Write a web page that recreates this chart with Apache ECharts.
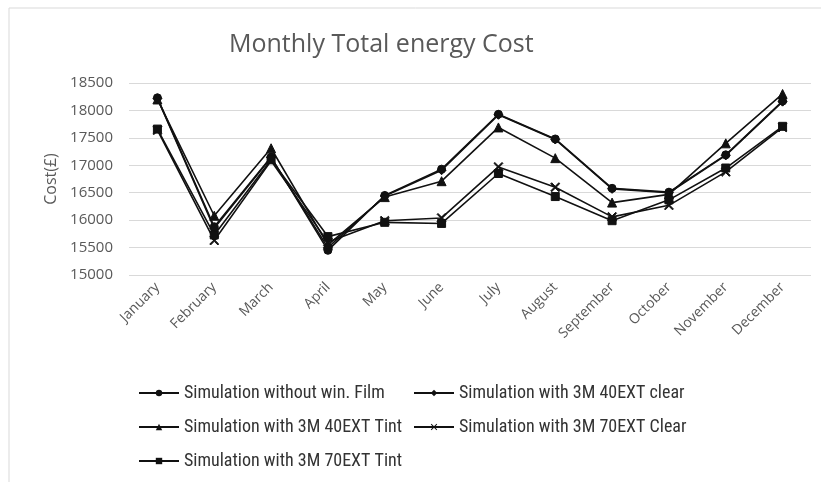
<!DOCTYPE html>
<html>
<head>
<meta charset="utf-8">
<script src="https://cdn.jsdelivr.net/npm/echarts@6/dist/echarts.min.js"></script>
<style>
  html, body { margin: 0; padding: 0; background: #fff; }
  #chart { width: 821px; height: 482px; }
</style>
</head>
<body>
<div id="chart"></div>
<script>
// months on the x axis
const months = ["January", "February", "March", "April", "May", "June",
  "July", "August", "September", "October", "November", "December"];

// values (£)
const noFilm    = [18230, 15880, 17150, 15450, 16450, 16930, 17930, 17480, 16580, 16510, 17190, 18170];
const ext40Clr  = [18220, 15850, 17140, 15500, 16440, 16910, 17920, 17470, 16570, 16500, 17180, 18160];
const ext40Tint = [18200, 16080, 17310, 15550, 16420, 16710, 17690, 17130, 16320, 16470, 17400, 18300];
const ext70Clr  = [17640, 15630, 17080, 15600, 15990, 16040, 16970, 16600, 16060, 16270, 16880, 17690];
const ext70Tint = [17660, 15730, 17100, 15700, 15960, 15940, 16850, 16430, 15990, 16370, 16950, 17710];

const names = [
  "Simulation without win. Film",
  "Simulation with 3M 40EXT clear",
  "Simulation with 3M 40EXT Tint",
  "Simulation with 3M 70EXT Clear",
  "Simulation with 3M 70EXT Tint"
];

const chart = echarts.init(document.getElementById("chart"));
const font = "'Open Sans', 'Noto Sans', sans-serif";
const narrow = "'Liberation Sans Narrow', 'Roboto Condensed', 'Liberation Sans', sans-serif";
// filled cross so it also shows in the legend
const cross = "path://M0,1L1,0L5,4L9,0L10,1L6,5L10,9L9,10L5,6L1,10L0,9L4,5Z";

function line(name, data, symbol, size) {
  return {
    name: name,
    type: "line",
    data: data,
    symbol: symbol,
    symbolSize: size,
    lineStyle: { color: "#111", width: 1.6 },
    itemStyle: { color: "#111", borderColor: "#111" },
    animation: false
  };
}

const legendText = { color: "#333", fontSize: 18, fontFamily: narrow };

chart.setOption({
  backgroundColor: "#fff",
  title: {
    text: "Monthly Total energy Cost",
    left: 224,
    top: 27,
    textStyle: { color: "#595959", fontSize: 25, fontWeight: "normal", fontFamily: font }
  },
  graphic: [{
    type: "rect",
    shape: { x: 9, y: 8, width: 900, height: 520 },
    style: { fill: "none", stroke: "#d9d9d9", lineWidth: 1 },
    z: -1
  }],
  legend: [{
    data: [names[0], names[2], names[4]],
    orient: "vertical",
    left: 133,
    top: 379,
    itemWidth: 40,
    itemHeight: 8,
    itemGap: 16,
    textStyle: legendText
  }, {
    data: [names[1], names[3]],
    orient: "vertical",
    left: 408,
    top: 379,
    itemWidth: 40,
    itemHeight: 8,
    itemGap: 16,
    textStyle: legendText
  }],
  grid: { left: 129, right: 10, top: 83, bottom: 207 },
  xAxis: {
    type: "category",
    data: months,
    boundaryGap: true,
    axisLine: { show: false },
    axisTick: { show: false },
    axisLabel: { rotate: 45, color: "#595959", fontSize: 14, fontFamily: font, margin: 10 }
  },
  yAxis: {
    type: "value",
    min: 15000,
    max: 18500,
    interval: 500,
    name: "Cost(£)",
    nameLocation: "middle",
    nameGap: 66,
    nameTextStyle: { color: "#595959", fontSize: 16, fontFamily: font },
    axisLine: { show: false },
    axisTick: { show: false },
    axisLabel: { color: "#595959", fontSize: 15, fontFamily: font, margin: 16, formatter: function (v) { return String(v); } },
    splitLine: { lineStyle: { color: "#d9d9d9", width: 1 } }
  },
  series: [
    line(names[0], noFilm, "circle", 8),
    line(names[1], ext40Clr, "diamond", 9),
    line(names[2], ext40Tint, "triangle", 9),
    line(names[3], ext70Clr, cross, 9),
    line(names[4], ext70Tint, "rect", 8)
  ]
});
</script>
</body>
</html>
